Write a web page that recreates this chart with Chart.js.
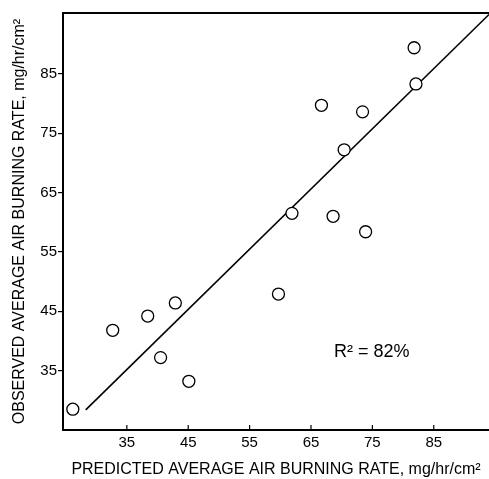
<!DOCTYPE html>
<html><head><meta charset="utf-8">
<script src="https://cdn.jsdelivr.net/npm/chart.js@4/dist/chart.umd.min.js"></script>
<style>html,body{margin:0;padding:0;background:#fff}</style>
</head><body>
<canvas id="c" width="489" height="479"></canvas>
<script>
const predicted = [81.8, 82.1, 66.7, 73.4, 70.4, 61.9, 68.6, 73.9, 59.7, 42.9, 38.4, 32.7, 40.5, 45.1, 26.2];
const observed  = [89.4, 83.3, 79.7, 78.6, 72.2, 61.5, 61.0, 58.4, 47.9, 46.4, 44.2, 41.8, 37.2, 33.2, 28.5];
const fitX = [28.3, 94];
const fitY = [28.4, 95];
const xTicks = [35, 45, 55, 65, 75, 85];
const yTicks = [35, 45, 55, 65, 75, 85];
const xTitle = 'PREDICTED AVERAGE AIR BURNING RATE, mg/hr/cm²';
const yTitle = 'OBSERVED AVERAGE AIR BURNING RATE, mg/hr/cm²';
const rText = 'R² = 82%';
const rPos = [74.9, 38.2];

const FAMILY = '"Liberation Sans", Arial, sans-serif';

const extras = {
  id: 'extras',
  afterDraw(chart) {
    const {ctx, chartArea: a, scales: {x, y}} = chart;
    ctx.save();
    ctx.strokeStyle = '#000';
    ctx.lineWidth = 2;
    ctx.beginPath(); ctx.moveTo(a.left - 1, a.top); ctx.lineTo(a.right, a.top); ctx.stroke();
    ctx.lineWidth = 1.2;
    xTicks.forEach(v => {
      const px = x.getPixelForValue(v);
      ctx.beginPath(); ctx.moveTo(px, a.bottom); ctx.lineTo(px, a.bottom - 5); ctx.stroke();
    });
    ctx.font = '18px ' + FAMILY;
    ctx.fillStyle = '#000';
    ctx.textAlign = 'center';
    ctx.textBaseline = 'middle';
    ctx.fillText(rText, x.getPixelForValue(rPos[0]), y.getPixelForValue(rPos[1]));
    ctx.restore();
  }
};

new Chart(document.getElementById('c'), {
  type: 'scatter',
  data: {
    datasets: [
      {
        data: predicted.map((v, i) => ({x: v, y: observed[i]})),
        pointRadius: 6,
        pointHoverRadius: 6,
        borderWidth: 1.3,
        borderColor: '#000',
        backgroundColor: '#fff',
        order: 0
      },
      {
        data: fitX.map((v, i) => ({x: v, y: fitY[i]})),
        showLine: true,
        pointRadius: 0,
        borderColor: '#000',
        borderWidth: 1.6,
        order: 1
      }
    ]
  },
  options: {
    responsive: false,
    animation: false,
    layout: {autoPadding: false, padding: {top: 13, right: 0, left: 0, bottom: 0}},
    plugins: {legend: {display: false}, tooltip: {enabled: false}},
    scales: {
      x: {
        type: 'linear', min: 24.6, max: 94,
        afterBuildTicks: s => { s.ticks = xTicks.map(v => ({value: v})); },
        afterFit: s => { s.height = 49; s.paddingLeft = 0; s.paddingRight = 0; },
        grid: {display: true, drawOnChartArea: false, drawTicks: false},
        border: {display: true, color: '#000', width: 2},
        ticks: {color: '#000', font: {size: 15, family: FAMILY}, padding: 4, maxRotation: 0},
        title: {display: true, text: xTitle, color: '#000', font: {size: 16, family: FAMILY}, padding: {top: 0, bottom: 0}}
      },
      y: {
        type: 'linear', min: 25, max: 95.25,
        afterBuildTicks: s => { s.ticks = yTicks.map(v => ({value: v})); },
        afterFit: s => { s.width = 63; s.paddingTop = 0; s.paddingBottom = 0; },
        grid: {display: true, drawOnChartArea: false, drawTicks: true, tickLength: 5, color: '#000', lineWidth: 1.2},
        border: {display: true, color: '#000', width: 2},
        ticks: {color: '#000', font: {size: 15, family: FAMILY}, padding: 1},
        title: {display: true, text: yTitle, color: '#000', font: {size: 16, family: FAMILY}, padding: {top: 10.4, bottom: 0}}
      }
    }
  },
  plugins: [extras]
});
</script>
</body></html>
